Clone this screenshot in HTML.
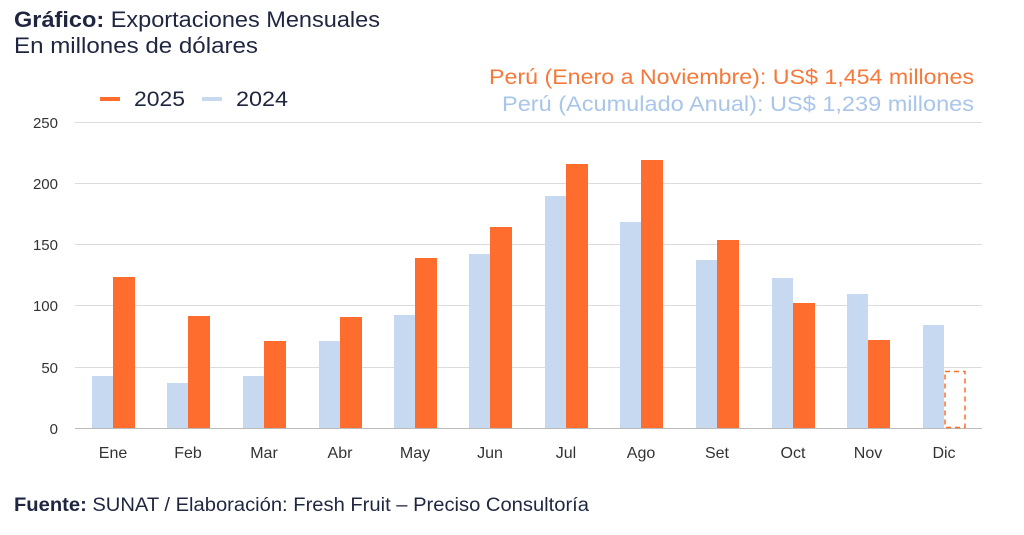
<!DOCTYPE html>
<html><head><meta charset="utf-8"><style>
body{margin:0;width:1024px;height:530px;background:#fff;overflow:hidden;font-family:"Liberation Sans",sans-serif}
</style></head><body>
<svg width="1024" height="530" xmlns="http://www.w3.org/2000/svg" font-family="Liberation Sans, sans-serif">
<text x="14" y="27" font-size="22" fill="#1f2640" textLength="366" lengthAdjust="spacingAndGlyphs"><tspan font-weight="bold">Gráfico:</tspan> Exportaciones Mensuales</text>
<text x="14" y="53" font-size="22" fill="#1f2640" textLength="244" lengthAdjust="spacingAndGlyphs">En millones de dólares</text>
<text x="489" y="84" font-size="21" fill="#f5793b" textLength="485" lengthAdjust="spacingAndGlyphs">Perú (Enero a Noviembre): US$ 1,454 millones</text>
<text x="502" y="111" font-size="21" fill="#a9c5ea" textLength="472" lengthAdjust="spacingAndGlyphs">Perú (Acumulado Anual): US$ 1,239 millones</text>
<rect x="100" y="97" width="20" height="4" fill="#ff6d2e"/>
<text x="134" y="106" font-size="21" fill="#1f2640" textLength="51" lengthAdjust="spacingAndGlyphs">2025</text>
<rect x="202" y="97" width="20" height="4" fill="#c6d9f1"/>
<text x="236" y="106" font-size="21" fill="#1f2640" textLength="52" lengthAdjust="spacingAndGlyphs">2024</text>
<g stroke="#dcdcdc" stroke-width="1">
<line x1="75" x2="982" y1="122.5" y2="122.5"/><line x1="75" x2="982" y1="183.5" y2="183.5"/>
<line x1="75" x2="982" y1="244.5" y2="244.5"/><line x1="75" x2="982" y1="305.5" y2="305.5"/>
<line x1="75" x2="982" y1="367.5" y2="367.5"/></g>
<line x1="75" x2="982" y1="428.5" y2="428.5" stroke="#bbb"/>
<g font-size="15" fill="#333" text-anchor="end">
<text x="58" y="128">250</text><text x="58" y="189">200</text><text x="58" y="250">150</text>
<text x="58" y="311">100</text><text x="58" y="373">50</text><text x="58" y="434">0</text></g>
<g fill="#c6d9f1">
<rect x="92" y="376" width="21" height="52"/><rect x="167" y="383" width="21" height="45"/>
<rect x="243" y="376" width="21" height="52"/><rect x="319" y="341" width="21" height="87"/>
<rect x="394" y="315" width="21" height="113"/><rect x="469" y="254" width="21" height="174"/>
<rect x="545" y="196" width="21" height="232"/><rect x="620" y="222" width="21" height="206"/>
<rect x="696" y="260" width="21" height="168"/><rect x="772" y="278" width="21" height="150"/>
<rect x="847" y="294" width="21" height="134"/><rect x="923" y="325" width="21" height="103"/></g>
<g fill="#ff6d2e">
<rect x="113" y="277" width="22" height="151"/><rect x="188" y="316" width="22" height="112"/>
<rect x="264" y="341" width="22" height="87"/><rect x="340" y="317" width="22" height="111"/>
<rect x="415" y="258" width="22" height="170"/><rect x="490" y="227" width="22" height="201"/>
<rect x="566" y="164" width="22" height="264"/><rect x="641" y="160" width="22" height="268"/>
<rect x="717" y="240" width="22" height="188"/><rect x="793" y="303" width="22" height="125"/>
<rect x="868" y="340" width="22" height="88"/></g>
<rect x="945" y="371.5" width="20" height="56" fill="none" stroke="#ff6d2e" stroke-width="1.5" stroke-dasharray="5,4"/>
<g font-size="16" fill="#333" text-anchor="middle">
<text x="113" y="458">Ene</text><text x="188" y="458">Feb</text><text x="264" y="458">Mar</text>
<text x="340" y="458">Abr</text><text x="415" y="458">May</text><text x="490" y="458">Jun</text>
<text x="566" y="458">Jul</text><text x="641" y="458">Ago</text><text x="717" y="458">Set</text>
<text x="793" y="458">Oct</text><text x="868" y="458">Nov</text><text x="944" y="458">Dic</text></g>
<text x="14" y="511" font-size="19" fill="#1f2640" textLength="575" lengthAdjust="spacingAndGlyphs"><tspan font-weight="bold">Fuente:</tspan> SUNAT / Elaboración: Fresh Fruit – Preciso Consultoría</text>
</svg>
</body></html>
